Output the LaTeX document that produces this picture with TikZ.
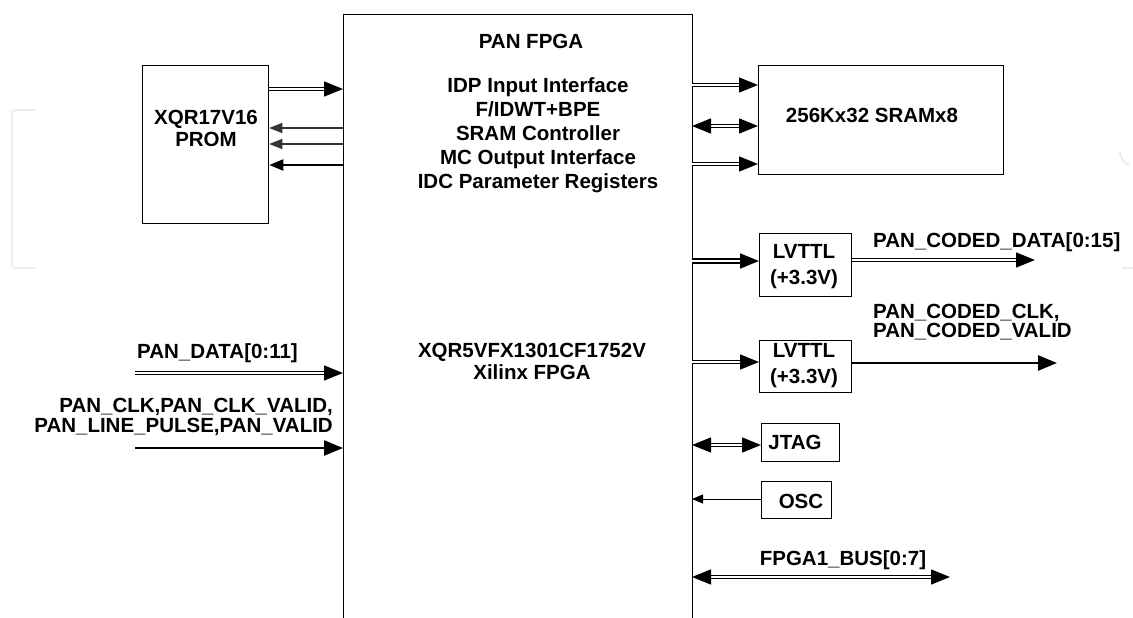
\documentclass[tikz,border=0pt]{standalone}
\usepackage{fontspec}
\setmainfont{Liberation Sans}
\usetikzlibrary{arrows.meta}
\begin{document}
\begin{tikzpicture}[x=1pt,y=-1pt,
  txt/.style={font=\bfseries\fontsize{20.5}{24}\selectfont, inner sep=0pt, align=center},
  box/.style={draw, line width=1.3pt, inner sep=0pt, anchor=north west},
  tipd/.tip={Triangle[length=19pt,width=15pt]},
  dbl/.style={draw, line width=1.4pt, double distance=1.8pt, -tipd},
  dblb/.style={draw, line width=1.4pt, double distance=1.8pt, tipd-tipd},
  dblthick/.style={draw, line width=1.8pt, double distance=1.6pt, -tipd},
  sing/.style={draw, line width=1.5pt, -{Triangle[length=13pt,width=10pt]}},
  thick1/.style={draw, line width=2.5pt, -{Triangle[length=19pt,width=15pt]}},
  thin1/.style={draw, line width=1pt, -{Triangle[length=11pt,width=9pt]}},
  wm/.style={draw=black!7, line width=2pt, rounded corners=3pt}
]
\useasboundingbox (0,0) rectangle (1133,618);
\clip (0,0) rectangle (1133,618);
% faint watermark brackets
\draw[wm] (35,110) -- (12,110) -- (12,268) -- (35,268);
\draw[wm] (1133,268) -- (1122,268);
\draw[wm] (1120,152) arc (180:110:14);

% boxes
\node[box, minimum width=349pt, minimum height=640pt] (fpga) at (343,14) {};
\node[box, minimum width=126pt, minimum height=158pt] (prom) at (142,65) {};
\node[box, minimum width=245pt, minimum height=109pt] (sram) at (758,65) {};
\node[box, minimum width=92pt, minimum height=63pt] (lv1) at (759,233) {};
\node[box, minimum width=92pt, minimum height=52pt] (lv2) at (759,340) {};
\node[box, minimum width=78pt, minimum height=38pt] (jtag) at (761,423) {};
\node[box, minimum width=70pt, minimum height=37pt] (osc) at (761,481) {};

% texts
\node[txt] (tpan) at (531,41) {PAN FPGA};
\node[txt, anchor=north] (tfun) at (538,77) {IDP Input Interface\\F/IDWT+BPE\\SRAM Controller\\MC Output Interface\\IDC Parameter Registers};
\node[txt, anchor=north] (tdev) at (532,343) {XQR5VFX1301CF1752V\\[-2pt]Xilinx FPGA};
\node[txt] (tprom) at (206,128) {XQR17V16\\[-2pt]PROM};
\node[txt] (tsram) at (872,115) {256Kx32 SRAMx8};
\node[txt] (tlv1) at (804,251) {LVTTL};
\node[txt] (tlv1b) at (804,279) {(+3.3V)};
\node[txt] (tlv2) at (804,350) {LVTTL};
\node[txt] (tlv2b) at (804,378) {(+3.3V)};
\node[txt] (tjtag) at (795,442) {JTAG};
\node[txt] (tosc) at (801,501) {OSC};
\node[txt, anchor=west] (lpd) at (137,353) {PAN\_DATA[0:11]};
\node[txt, anchor=east, align=right] (lclk) at (333,417) {PAN\_CLK,PAN\_CLK\_VALID,\\[-4pt]PAN\_LINE\_PULSE,PAN\_VALID};
\node[txt, anchor=west] (lcd) at (873,242) {PAN\_CODED\_DATA[0:15]};
\node[txt, anchor=west, align=left] (lcc) at (873,322) {PAN\_CODED\_CLK,\\[-5pt]PAN\_CODED\_VALID};
\node[txt] (lbus) at (843,560) {FPGA1\_BUS[0:7]};

% coordinates
\coordinate (p1) at (343,89);
\coordinate (p2) at (343,128);
\coordinate (p3) at (343,144);
\coordinate (p4) at (343,165);
\coordinate (s1) at (692,85);
\coordinate (s2) at (692,126);
\coordinate (s3) at (692,164);
\coordinate (v1) at (692,261);
\coordinate (v2) at (692,362);
\coordinate (j1) at (692,445);
\coordinate (o1) at (692,499);
\coordinate (b1) at (692,577);
\coordinate (b2) at (950,577);
\coordinate (cd) at (1035,260);
\coordinate (cc) at (1057,363);
\coordinate (in1) at (135,373);
\coordinate (in2) at (135,448);

% PROM connections
\draw[dbl] (p1 -| prom.east) -- (p1);
\draw[sing, draw=black!80] (p2) -- (p2 -| prom.east);
\draw[sing, draw=black!80] (p3) -- (p3 -| prom.east);
\draw[thick1, line width=2.2pt, -{Triangle[length=14pt,width=11pt]}] (p4) -- (p4 -| prom.east);

% SRAM connections
\draw[dbl] (s1) -- (s1 -| sram.west);
\draw[dblb] (s2) -- (s2 -| sram.west);
\draw[dbl] (s3) -- (s3 -| sram.west);

% LVTTL
\draw[dblthick] (v1) -- (v1 -| lv1.west);
\draw[dbl] (lv1.east |- cd) -- (cd);
\draw[dbl] (v2) -- (v2 -| lv2.west);
\draw[thick1] (lv2.east |- cc) -- (cc);

% JTAG, OSC, BUS
\draw[dblb] (j1) -- (j1 -| jtag.west);
\draw[thin1] (osc.west |- o1) -- (o1);
\draw[dblb] (b1) -- (b2);

% inputs
\draw[dbl] (in1) -- (in1 -| fpga.west);
\draw[thick1] (in2) -- (in2 -| fpga.west);
\end{tikzpicture}
\end{document}
